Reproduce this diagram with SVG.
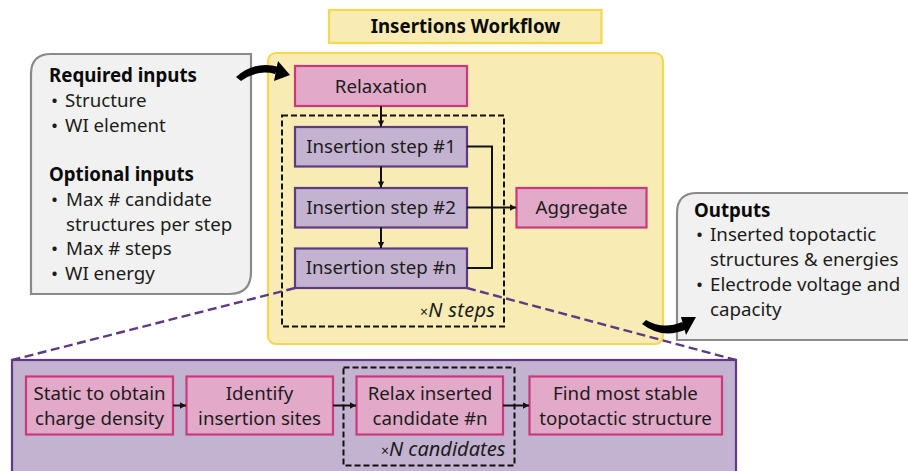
<svg xmlns="http://www.w3.org/2000/svg" width="908" height="471" viewBox="0 0 908 471">
<style>
text{font-family:"Noto Sans","Liberation Sans",sans-serif;font-size:18.7px;fill:#1c1c1c}
.c{text-anchor:middle}
.b{font-weight:700;fill:#0a0a0a}
.i{font-style:italic;font-size:20px}
.x{font-size:14px;font-style:normal}
.pink{fill:#e2a9c8;stroke:#c83a7c;stroke-width:2.2}
.purple{fill:#c3b3d0;stroke:#5f3a84;stroke-width:2.2}
.yellow{fill:#f8ecb4;stroke:#f5d84e;stroke-width:2.2}
.grey{fill:#f1f1f1;stroke:#8a8a8a;stroke-width:2.2}
.dash{fill:none;stroke:#111;stroke-width:2;stroke-dasharray:6 3}
.zoomline{fill:none;stroke:#5f3a84;stroke-width:2.4;stroke-dasharray:9 4.5}
.line{fill:none;stroke:#111;stroke-width:2}
</style>
<defs>
<marker id="a" markerUnits="userSpaceOnUse" markerWidth="8" markerHeight="8" refX="7" refY="4" orient="auto"><path d="M1,0.8L7,4L1,7.2z" fill="#111"/></marker>
</defs>
<g id="title"><rect class="yellow" x="329" y="10" width="272.5" height="33"/><text class="c b" x="465.5" y="33">Insertions Workflow</text></g>
<g id="workflow"><rect class="yellow" x="268" y="53" width="395" height="291" rx="8"/></g>
<g id="inputs">
<path class="grey" d="M51,54H251V272Q251,294 229,294H31V74Q31,54 51,54Z"/>
<text class="b" x="49" y="82">Required inputs</text>
<text x="51" y="107">•</text><text x="65" y="107">Structure</text>
<text x="51" y="132">•</text><text x="65" y="132">WI element</text>
<text class="b" x="49" y="181">Optional inputs</text>
<text x="51" y="206">•</text><text x="66" y="206">Max # candidate</text>
<text x="66" y="231">structures per step</text>
<text x="51" y="255">•</text><text x="66" y="255">Max # steps</text>
<text x="51" y="280">•</text><text x="65" y="280">WI energy</text>
</g>
<g id="outputs">
<path class="grey" d="M697,193H910V340H677V213Q677,193 697,193Z"/>
<text class="b" x="694" y="217">Outputs</text>
<text x="696" y="241">•</text><text x="710" y="241">Inserted topotactic</text>
<text x="710" y="266">structures &amp; energies</text>
<text x="696" y="291">•</text><text x="710" y="291">Electrode voltage and</text>
<text x="710" y="316">capacity</text>
</g>
<g id="relaxation"><rect class="pink" x="295" y="66" width="172" height="40"/><text class="c" x="381" y="92.500">Relaxation</text></g>
<g id="step1"><rect class="purple" x="295" y="127" width="172" height="39.500"/><text class="c" x="381" y="153">Insertion step #1</text></g>
<g id="step2"><rect class="purple" x="295" y="188" width="172" height="39.500"/><text class="c" x="381" y="214">Insertion step #2</text></g>
<g id="stepn"><rect class="purple" x="295" y="248.500" width="172" height="39.500"/><text class="c" x="381" y="274">Insertion step #n</text></g>
<g id="aggregate"><rect class="pink" x="516.500" y="188" width="130" height="39.500"/><text class="c" x="581.500" y="214">Aggregate</text></g>
<g id="nsteps"><rect class="dash" x="282" y="115.500" width="222" height="211"/><text class="i" x="420" y="317" letter-spacing="0.3"><tspan class="x">×</tspan>N steps</text></g>
<g id="detail"><rect class="purple" x="12" y="360" width="724" height="120"/></g>
<g id="static"><rect class="pink" x="26" y="376.500" width="147" height="58"/><text class="c" x="99.500" y="399.500">Static to obtain</text><text class="c" x="99.500" y="424.500">charge density</text></g>
<g id="identify"><rect class="pink" x="186.500" y="376.500" width="146.500" height="58"/><text class="c" x="259.500" y="399.500">Identify</text><text class="c" x="259.500" y="424.500">insertion sites</text></g>
<g id="relaxcand"><rect class="pink" x="356.500" y="376.500" width="146.500" height="58"/><text class="c" x="430" y="399.500">Relax inserted</text><text class="c" x="430" y="424.500">candidate #n</text></g>
<g id="find"><rect class="pink" x="529.500" y="376.500" width="192.500" height="58"/><text class="c" x="625.500" y="399.500">Find most stable</text><text class="c" x="625.500" y="424.500">topotactic structure</text></g>
<g id="ncand"><rect class="dash" x="343.500" y="367.500" width="171" height="98"/><text class="i" x="381" y="456"><tspan class="x">×</tspan>N candidates</text></g>
<g id="connectors">
<path class="line" d="M381,106V126.500" marker-end="url(#a)"/>
<path class="line" d="M381,166.500V187.500" marker-end="url(#a)"/>
<path class="line" d="M381,227.500V248" marker-end="url(#a)"/>
<path class="line" d="M467,146.500H492V268H467"/>
<path class="line" d="M467,207.500H516" marker-end="url(#a)"/>
<path class="line" d="M173,405.500H186" marker-end="url(#a)"/>
<path class="line" d="M333,405.500H356" marker-end="url(#a)"/>
<path class="line" d="M503,405.500H529" marker-end="url(#a)"/>
<path class="zoomline" d="M295,288L12,360"/>
<path class="zoomline" d="M467,288L736,360"/>
<path d="M236,77Q255,60 279,67L275,74Q258,69 241,81Z" fill="#000"/>
<path d="M290,75L278,61L274,81Z" fill="#000"/>
<path d="M642,324L646,320Q663,330 682,322L687,329Q663,340 642,324Z" fill="#000"/>
<path d="M696,317L681,317L686,335Z" fill="#000"/>
</g>
</svg>
